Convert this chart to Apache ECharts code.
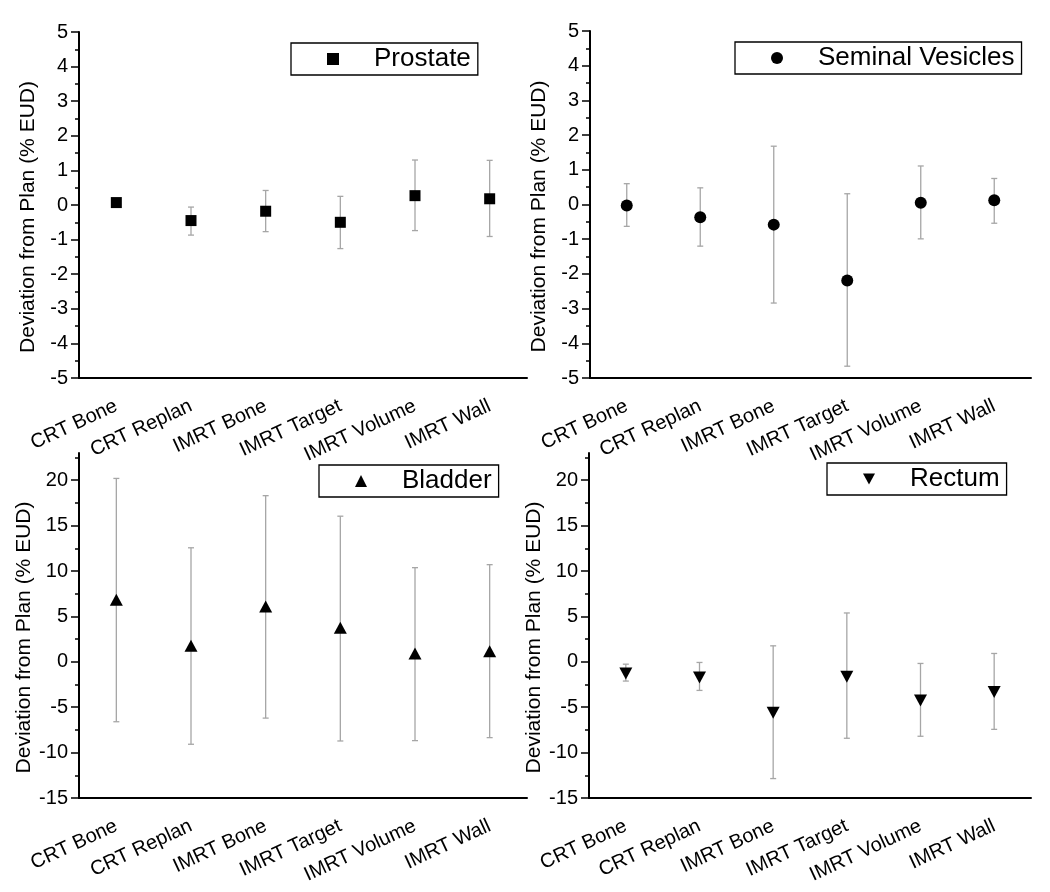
<!DOCTYPE html>
<html><head><meta charset="utf-8">
<script src="https://cdn.jsdelivr.net/npm/echarts@6/dist/echarts.min.js"></script>
<style>html,body{margin:0;padding:0;background:#fff}#c{width:1050px;height:892px}</style>
</head><body><div id="c"></div>
<script>
const categories = ['CRT Bone', 'CRT Replan', 'IMRT Bone', 'IMRT Target', 'IMRT Volume', 'IMRT Wall'];

const prostateMean = [0.07, -0.45, -0.18, -0.50, 0.27, 0.18];
const prostateLow  = [0.02, -0.87, -0.77, -1.26, -0.74, -0.91];
const prostateHigh = [0.12, -0.06, 0.42, 0.25, 1.30, 1.29];

const vesiclesMean = [-0.03, -0.37, -0.58, -2.19, 0.05, 0.12];
const vesiclesLow  = [-0.63, -1.20, -2.84, -4.66, -0.99, -0.54];
const vesiclesHigh = [0.60, 0.48, 1.68, 0.31, 1.11, 0.75];

const bladderMean = [6.85, 1.76, 6.10, 3.74, 0.92, 1.17];
const bladderLow  = [-6.60, -9.08, -6.20, -8.72, -8.68, -8.35];
const bladderHigh = [20.20, 12.56, 18.30, 16.04, 10.37, 10.70];

const rectumMean = [-1.28, -1.72, -5.60, -1.65, -4.25, -3.33];
const rectumLow  = [-2.12, -3.15, -12.86, -8.42, -8.20, -7.44];
const rectumHigh = [-0.26, -0.07, 1.76, 5.38, -0.18, 0.92];

const bottomTicks = [-15, -10, -5, 0, 5, 10, 15, 20];
const bottomMinorTicks = [-12.5, -7.5, -2.5, 2.5, 7.5, 12.5, 17.5, 22.5];

const yName = 'Deviation from Plan (% EUD)';
const FONT = "'Liberation Sans', Arial, sans-serif";

const panels = [
  {name: 'Prostate', mean: prostateMean, low: prostateLow, high: prostateHigh,
   symbol: 'rect', size: 11, grid: {left: 79, top: 32, width: 448, height: 346},
   legend: {left: 291, top: 43}, yMin: -5, yMax: 5, top: true},
  {name: 'Seminal Vesicles', mean: vesiclesMean, low: vesiclesLow, high: vesiclesHigh,
   symbol: 'circle', size: 12, grid: {left: 590, top: 31, width: 441, height: 347},
   legend: {left: 735, top: 42}, yMin: -5, yMax: 5, top: true},
  {name: 'Bladder', mean: bladderMean, low: bladderLow, high: bladderHigh,
   symbol: 'triangle', size: [13, 12], grid: {left: 79, top: 453, width: 448, height: 345},
   legend: {left: 319, top: 465}, yMin: -15, yMax: 23, top: false},
  {name: 'Rectum', mean: rectumMean, low: rectumLow, high: rectumHigh,
   symbol: 'path://M0,0 L10,0 L5,9 Z', size: [13, 12], grid: {left: 589, top: 453, width: 442, height: 345},
   legend: {left: 827, top: 463}, yMin: -15, yMax: 23, top: false}
];

const grid = [], xAxis = [], yAxis = [], series = [], legend = [];

panels.forEach((p, i) => {
  grid.push(Object.assign({containLabel: false}, p.grid));
  xAxis.push({
    type: 'category', gridIndex: i, data: categories, boundaryGap: true,
    axisLine: {onZero: false, lineStyle: {color: '#000', width: 2}},
    axisTick: {alignWithLabel: true, length: 7, lineStyle: {color: '#000', width: 1.5}},
    axisLabel: {rotate: 25, margin: 27, fontSize: 20, color: '#000', fontFamily: FONT, interval: 0},
    splitLine: {show: false}
  });
  const yIdx = yAxis.length;
  if (p.top) {
    yAxis.push({
      type: 'value', gridIndex: i, min: p.yMin, max: p.yMax, interval: 1, position: 'left',
      name: yName, nameLocation: 'middle', nameGap: 40,
      nameTextStyle: {fontSize: 21, color: '#000', fontFamily: FONT, padding: [0, 24, 0, 0]},
      axisLine: {show: true, onZero: false, lineStyle: {color: '#000', width: 2}},
      axisTick: {show: true, length: 8, lineStyle: {color: '#000', width: 1.5}},
      minorTick: {show: true, splitNumber: 2, length: 4, lineStyle: {color: '#000', width: 1.5}},
      axisLabel: {fontSize: 20, color: '#000', fontFamily: FONT, margin: 11},
      splitLine: {show: false}
    });
  } else {
    yAxis.push({
      type: 'value', gridIndex: i, min: p.yMin, max: p.yMax, interval: 5, position: 'left',
      name: yName, nameLocation: 'middle', nameGap: 40,
      nameTextStyle: {fontSize: 21, color: '#000', fontFamily: FONT, padding: [0, 24, 0, 0]},
      axisLine: {show: true, onZero: false, lineStyle: {color: '#000', width: 2}},
      axisTick: {show: true, length: 8, customValues: bottomTicks, lineStyle: {color: '#000', width: 1.5}},
      axisLabel: {fontSize: 20, color: '#000', fontFamily: FONT, margin: 11, customValues: bottomTicks},
      splitLine: {show: false}
    });
    yAxis.push({
      type: 'value', gridIndex: i, min: p.yMin, max: p.yMax, interval: 5, position: 'left',
      axisLine: {show: false, onZero: false},
      axisTick: {show: true, length: 4, customValues: bottomMinorTicks, lineStyle: {color: '#000', width: 1.5}},
      axisLabel: {show: false},
      splitLine: {show: false}
    });
  }
  const errData = categories.map((c, k) => [k, p.low[k], p.high[k]]);
  series.push({
    type: 'custom', name: p.name + ' err', xAxisIndex: i, yAxisIndex: yIdx, z: 1,
    encode: {x: 0, y: [1, 2]},
    data: errData,
    renderItem: function (params, api) {
      const x = api.value(0);
      const a = api.coord([x, api.value(1)]);
      const b = api.coord([x, api.value(2)]);
      const w = 3;
      const st = {stroke: '#a6a6a6', lineWidth: 1.3};
      return {type: 'group', children: [
        {type: 'line', shape: {x1: a[0], y1: a[1], x2: b[0], y2: b[1]}, style: st},
        {type: 'line', shape: {x1: a[0] - w, y1: a[1], x2: a[0] + w, y2: a[1]}, style: st},
        {type: 'line', shape: {x1: b[0] - w, y1: b[1], x2: b[0] + w, y2: b[1]}, style: st}
      ]};
    }
  });
  series.push({
    type: 'scatter', name: p.name, xAxisIndex: i, yAxisIndex: yIdx, z: 3,
    symbol: p.symbol, symbolSize: p.size,
    itemStyle: {color: '#000', opacity: 1},
    data: p.mean.map((v, k) => [k, v])
  });
  legend.push({
    data: [p.name], left: p.legend.left, top: p.legend.top,
    orient: 'horizontal',
    borderColor: '#000', borderWidth: 1.3, borderRadius: 0,
    padding: [3, 7, 3, 36],
    itemWidth: 12, itemHeight: 12,
    itemStyle: {opacity: 1},
    textStyle: {fontSize: 26, color: '#000', fontFamily: FONT, padding: [0, 0, 0, 30]},
    selectedMode: false
  });
});

const chart = echarts.init(document.getElementById('c'), null, {renderer: 'canvas'});
chart.setOption({
  animation: false,
  backgroundColor: '#fff',
  grid, xAxis, yAxis, series, legend
});
</script>
</body></html>
